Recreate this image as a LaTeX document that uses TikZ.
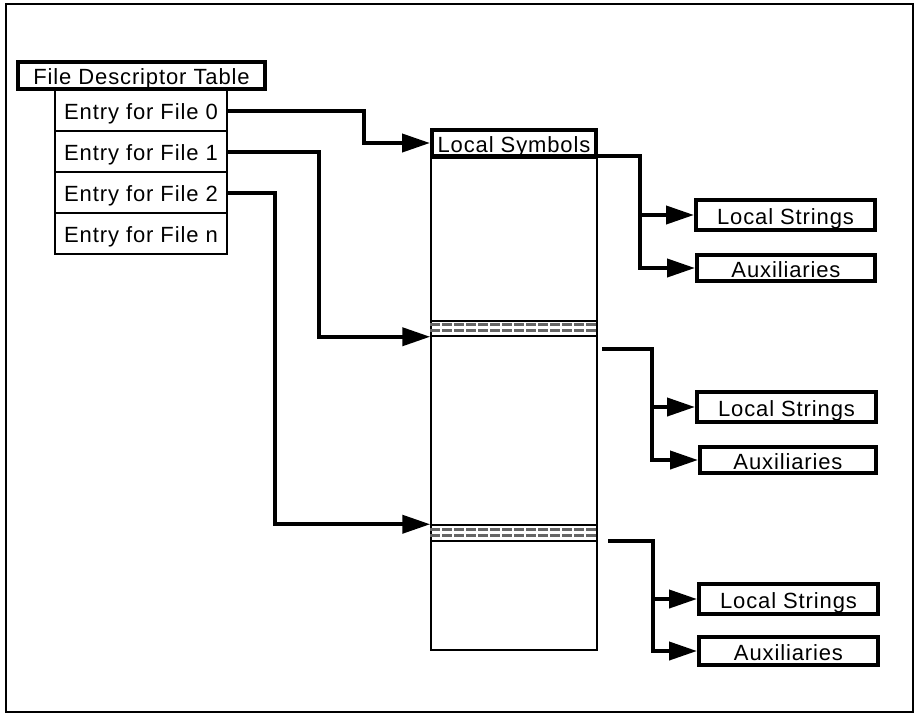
\documentclass[tikz,border=0pt]{standalone}
\usepackage{fontspec}
\setsansfont{Liberation Sans}[LetterSpace=4]
\usepackage{tikz}
\usetikzlibrary{arrows.meta, positioning}
\newcommand{\boxfont}{\sffamily\fontsize{22}{26}\selectfont}
\tikzset{%
	headbox/.style={
		draw,
		line width=4pt,
		inner sep=0pt,
		text height=18pt,
		text depth=0pt,
		font=\boxfont
	},
	entrybox/.style={
		draw,
		line width=2pt,
		inner sep=0pt,
		text height=18pt,
		text depth=0pt,
		minimum width=172pt,
		minimum height=41pt,
		font=\boxfont
	},
	bandbox/.style={
		draw,
		line width=1.5pt,
		fill=white,
		minimum width=166pt,
		inner sep=0pt
	},
	stipple/.style={
		line width=3pt,
		black!60,
		dash pattern=on 10pt off 2pt
	},
	wire/.style={
		line width=4pt
	},
	wirearrow/.style={
		wire,
		-{Triangle[length=28pt,width=18pt]}
	},
}

\begin{document}
\begin{tikzpicture}[x=1pt,y=-1pt]
			\useasboundingbox (0,0) rectangle (918,716);
			% Outer frame
			\draw[line width=2pt] (6,4) rectangle (913,712);
			
			% File descriptor table
			\node[headbox, minimum width=247pt, minimum height=27pt] (fdt) at (141.5,75.5) {File Descriptor Table};
			\foreach \f [count=\k from 0] in {0,1,2,n}
				\node[entrybox] (entry\f) at (141,{110.5+41*\k}) {Entry for File \f};
			
			% Symbol column
			\node[draw, line width=2pt, minimum width=166pt, minimum height=492pt, inner sep=0pt] (column) at (514,404) {};
			\node[headbox, fill=white, minimum width=164pt, minimum height=26pt] (locsym) at (514,143) {Local Symbols};
			
			% Bands between files
			\node[bandbox, minimum height=15pt] (band1) at (514,328.5) {};
			\node[bandbox, minimum height=16pt] (band2) at (514,533) {};
			\draw[stipple] ([yshift=-4.5pt]band1.north west) -- ([yshift=-4.5pt]band1.north east);
			\draw[stipple] ([yshift=-10.5pt]band1.north west) -- ([yshift=-10.5pt]band1.north east);
			\draw[stipple] ([yshift=-5pt]band2.north west) -- ([yshift=-5pt]band2.north east);
			\draw[stipple] ([yshift=-11pt]band2.north west) -- ([yshift=-11pt]band2.north east);
			
			% Strings and auxiliaries
			\node[headbox, minimum width=179pt, minimum height=30pt] (lstr1) at (785.5,215) {Local Strings};
			\node[headbox, minimum width=178pt, minimum height=26pt] (aux1) at (786,268) {Auxiliaries};
			\node[headbox, minimum width=179pt, minimum height=30pt] (lstr2) at (786.5,407) {Local Strings};
			\node[headbox, minimum width=176pt, minimum height=26pt] (aux2) at (788,460) {Auxiliaries};
			\node[headbox, minimum width=179pt, minimum height=30pt] (lstr3) at (788.5,599) {Local Strings};
			\node[headbox, minimum width=179pt, minimum height=28pt] (aux3) at (788.5,651) {Auxiliaries};
			
			% Bend points
			\coordinate (bend0) at (364,0);
			\coordinate (bend1) at (319,0);
			\coordinate (bend2) at (275,0);
			
			% Entries to the column
			\draw[wirearrow] (entry0.east) -- (entry0.east -| bend0) |- (locsym.west);
			\draw[wirearrow] (entry1.east) -- (entry1.east -| bend1) |- (band1.south west);
			\draw[wirearrow] (entry2.east) -- (entry2.east -| bend2) |- (band2.north west);
			
			% Branches on the right
			\coordinate (out1) at (598,156);
			\coordinate (fork1) at (640,156);
			\coordinate (out2) at (602,349);
			\coordinate (fork2) at (652,349);
			\coordinate (out3) at (608,541);
			\coordinate (fork3) at (653,541);
			
			\draw[wirearrow] (out1) -- (fork1) |- (aux1.west);
			\draw[wirearrow] (fork1 |- lstr1.west) -- (lstr1.west);
			
			\draw[wirearrow] (out2) -- (fork2) |- (aux2.west);
			\draw[wirearrow] (fork2 |- lstr2.west) -- (lstr2.west);
			
			\draw[wirearrow] (out3) -- (fork3) |- (aux3.west);
			\draw[wirearrow] (fork3 |- lstr3.west) -- (lstr3.west);
		\end{tikzpicture}
\end{document}
